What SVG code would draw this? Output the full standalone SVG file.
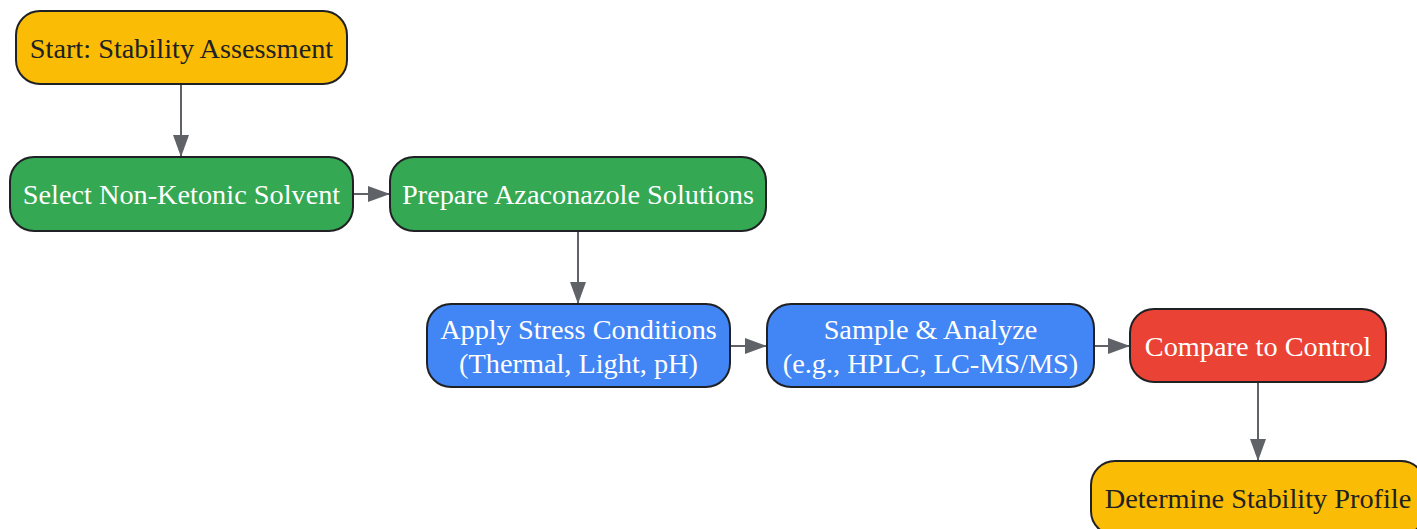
<svg xmlns="http://www.w3.org/2000/svg" width="1417" height="529" viewBox="0 0 1417 529">
<style>
.n{stroke:#202124;stroke-width:2}
.t{font-family:"Liberation Serif","Times New Roman",serif;font-size:28.3px;text-anchor:middle}
.d{fill:#202124}
.w{fill:#ffffff}
.e{stroke:#5F6368;stroke-width:2;fill:none;marker-end:url(#ah)}
</style>
<defs>
<marker id="ah" markerUnits="userSpaceOnUse" markerWidth="24" markerHeight="18" refX="22" refY="8" orient="auto">
<path d="M0,0 L22,8 L0,16 Z" fill="#5F6368"/>
</marker>
</defs>
<rect width="1417" height="529" fill="#ffffff"/>
<g id="connectors">
<path class="e" d="M181,84 L181,157"/>
<path class="e" d="M353,194 L390,194"/>
<path class="e" d="M578,231 L578,304"/>
<path class="e" d="M730,346 L767,346"/>
<path class="e" d="M1094,346 L1130,346"/>
<path class="e" d="M1258,382 L1258,461"/>
</g>
<g id="start">
<rect class="n" x="16" y="11" width="331" height="73" rx="24" fill="#FBBC05"/>
<text class="t d" x="181.5" y="58">Start: Stability Assessment</text>
</g>
<g id="select">
<rect class="n" x="10" y="157" width="343" height="74" rx="24" fill="#34A853"/>
<text class="t w" x="181.5" y="204">Select Non-Ketonic Solvent</text>
</g>
<g id="prepare">
<rect class="n" x="390" y="157" width="376" height="74" rx="24" fill="#34A853"/>
<text class="t w" x="578" y="204">Prepare Azaconazole Solutions</text>
</g>
<g id="stress">
<rect class="n" x="427" y="304" width="303" height="83" rx="24" fill="#4285F4"/>
<text class="t w" x="578.5" y="339">Apply Stress Conditions</text>
<text class="t w" x="578.5" y="373">(Thermal, Light, pH)</text>
</g>
<g id="analyze">
<rect class="n" x="767" y="304" width="327" height="83" rx="24" fill="#4285F4"/>
<text class="t w" x="930.5" y="339">Sample &amp; Analyze</text>
<text class="t w" x="930.5" y="373">(e.g., HPLC, LC-MS/MS)</text>
</g>
<g id="compare">
<rect class="n" x="1130" y="309" width="256" height="73" rx="24" fill="#EA4335"/>
<text class="t w" x="1258" y="356">Compare to Control</text>
</g>
<g id="profile">
<rect class="n" x="1091" y="461" width="334" height="74" rx="24" fill="#FBBC05"/>
<text class="t d" x="1258" y="508">Determine Stability Profile</text>
</g>
</svg>
